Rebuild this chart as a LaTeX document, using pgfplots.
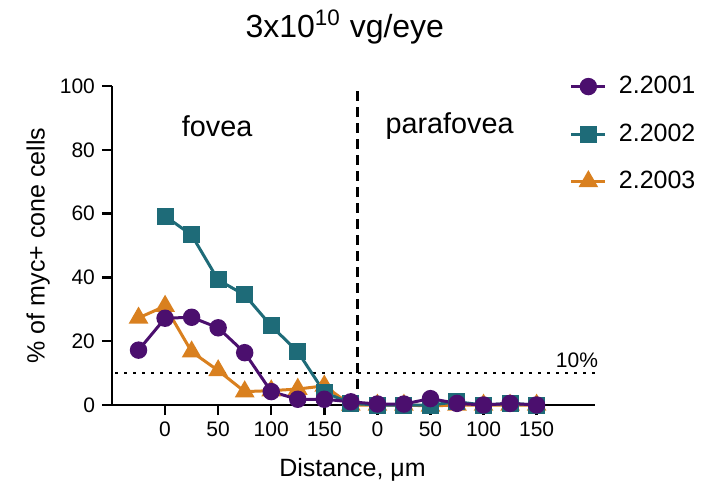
\documentclass[border=0pt]{standalone}
\usepackage{pgfplots}
\pgfplotsset{compat=1.18}
\usepackage{fontspec}
\setmainfont{Liberation Sans}
\definecolor{cpurple}{HTML}{4B0F6E}
\definecolor{cteal}{HTML}{1E6B78}
\definecolor{corange}{HTML}{D9801F}
\begin{document}
\begin{tikzpicture}
\useasboundingbox (0,0) rectangle (358.5pt,243.5pt);
\begin{axis}[
  at={(56pt,41pt)}, anchor=south west,
  scale only axis, width=241.5pt, height=159.5pt,
  xmin=-50, xmax=405, ymin=0, ymax=100,
  axis x line*=bottom, axis y line*=left,
  axis line style={line width=1.2pt, -},
  xtick={0,50,100,150,200,250,300,350},
  xticklabels={0,50,100,150,0,50,100,150},
  ytick={0,20,40,60,80,100},
  tick style={line width=1.2pt, black},
  major tick length=5pt,
  tick align=outside,
  tick label style={font=\fontsize{10.5}{12}\selectfont},
  /pgf/number format/assume math mode=true,
  clip=false,
  xlabel={Distance, μm},
  ylabel={\% of myc+ cone cells},
  xlabel style={font=\fontsize{12.5}{14}\selectfont, at={(rel axis cs:0.498,-0.204)}, anchor=center},
  ylabel style={font=\fontsize{12.5}{14}\selectfont, at={(rel axis cs:-0.153,0.5)}, anchor=center},
  legend style={at={(rel axis cs:0.947,1.044)}, anchor=north west, draw=none, fill=none,
    font=\fontsize{12.5}{14}\selectfont, row sep=9.5pt, column sep=4pt, inner sep=0pt},
  legend cell align=left,
  reverse legend,
]
% reference lines
\addplot[black, line width=1.2pt, dash pattern=on 1.2pt off 3.3pt, forget plot] coordinates {(-47,10) (405,10)};
\addplot[black, line width=1.3pt, dash pattern=on 5pt off 3pt, forget plot] coordinates {(181,0) (181,100)};
% 2.2003
\addplot[corange, line width=1.5pt, mark=triangle*, mark size=4.2pt, mark options={solid}] coordinates {
 (-25,27.3) (0,31) (25,16.7) (50,10.8) (75,4.2) (100,4.5) (125,5) (150,6) (175,0)
 (200,0) (225,0) (250,-0.3) (275,0) (300,0) (325,0) (350,0)};
\addlegendentry{2.2003}
% 2.2002
\addplot[cteal, line width=1.5pt, mark=square*, mark size=3.5pt, mark options={solid}] coordinates {
 (0,59.2) (25,53.3) (50,39.2) (75,34.5) (100,24.8) (125,16.7) (150,4) (175,0.5)
 (200,0) (225,0) (250,0) (275,1) (300,0) (325,0.5) (350,0)};
\addlegendentry{2.2002}
% 2.2001
\addplot[cpurple, line width=1.5pt, mark=*, mark size=3.6pt, mark options={solid}] coordinates {
 (-25,17.2) (0,27.2) (25,27.5) (50,24.2) (75,16.4) (100,4.2) (125,1.8) (150,1.8) (175,1)
 (200,0.3) (225,0.3) (250,2) (275,0.5) (300,0) (325,0.5) (350,0)};
\addlegendentry{2.2001}
\node[font=\fontsize{14.4}{16}\selectfont] at (axis cs:49,87.5) {fovea};
\node[font=\fontsize{14.4}{16}\selectfont] at (axis cs:268,87.5) {parafovea};
\node[font=\fontsize{10.5}{12}\selectfont] at (axis cs:388,14.1) {10\%};
\node[font=\fontsize{16}{18}\selectfont] at (rel axis cs:0.482,1.185) {3x10\textsuperscript{10} vg/eye};
\end{axis}
\end{tikzpicture}
\end{document}
